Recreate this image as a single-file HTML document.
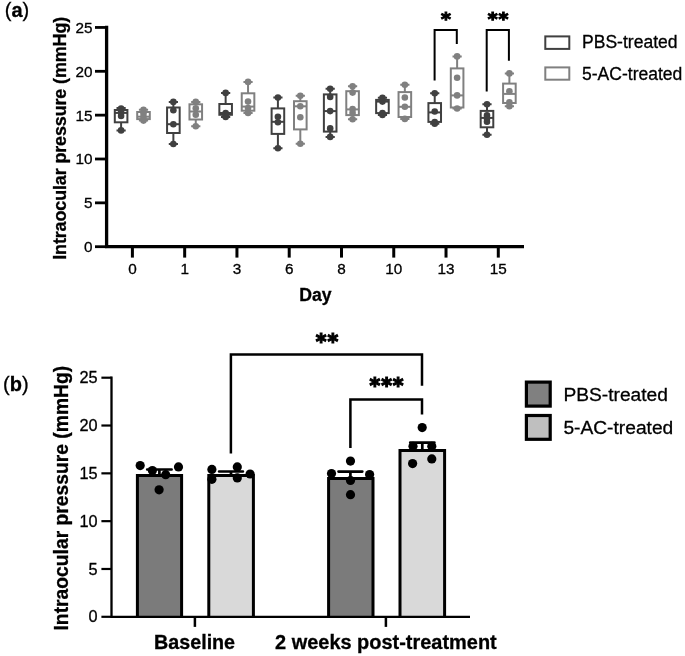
<!DOCTYPE html>
<html lang="en"><head><meta charset="utf-8"><title>Intraocular pressure</title>
<style>
html,body{margin:0;padding:0;background:#fff;}
svg{display:block;font-family:"Liberation Sans", Arial, Helvetica, sans-serif;fill:#000;}
text{stroke:#000;stroke-width:0.3px;}
.st{font-family:"DejaVu Sans",sans-serif;font-weight:bold;stroke:#000;stroke-width:1.2px;stroke-linejoin:miter;}
</style></head>
<body>
<svg width="685" height="656" viewBox="0 0 685 656">
<rect width="685" height="656" fill="#fff" stroke="none"/>
<text x="4.8" y="16.8" font-size="20">(<tspan font-weight="bold">a</tspan>)</text>
<path d="M106.6 25.69999999999999V246.7H524" fill="none" stroke="#000" stroke-width="3.3" stroke-linejoin="miter"/>
<path d="M95 246.70H106.6" stroke="#000" stroke-width="2.8"/>
<text x="92.4" y="252.10" font-size="15.3" text-anchor="end">0</text>
<path d="M95 202.85H106.6" stroke="#000" stroke-width="2.8"/>
<text x="92.4" y="208.25" font-size="15.3" text-anchor="end">5</text>
<path d="M95 159.00H106.6" stroke="#000" stroke-width="2.8"/>
<text x="92.4" y="164.40" font-size="15.3" text-anchor="end">10</text>
<path d="M95 115.15H106.6" stroke="#000" stroke-width="2.8"/>
<text x="92.4" y="120.55" font-size="15.3" text-anchor="end">15</text>
<path d="M95 71.30H106.6" stroke="#000" stroke-width="2.8"/>
<text x="92.4" y="76.70" font-size="15.3" text-anchor="end">20</text>
<path d="M95 27.45H106.6" stroke="#000" stroke-width="2.8"/>
<text x="92.4" y="32.85" font-size="15.3" text-anchor="end">25</text>
<path d="M132.40 246.7V257.6" stroke="#000" stroke-width="3"/>
<text x="132.40" y="273.8" font-size="15.3" text-anchor="middle">0</text>
<path d="M184.67 246.7V257.6" stroke="#000" stroke-width="3"/>
<text x="184.67" y="273.8" font-size="15.3" text-anchor="middle">1</text>
<path d="M236.94 246.7V257.6" stroke="#000" stroke-width="3"/>
<text x="236.94" y="273.8" font-size="15.3" text-anchor="middle">3</text>
<path d="M289.21 246.7V257.6" stroke="#000" stroke-width="3"/>
<text x="289.21" y="273.8" font-size="15.3" text-anchor="middle">6</text>
<path d="M341.48 246.7V257.6" stroke="#000" stroke-width="3"/>
<text x="341.48" y="273.8" font-size="15.3" text-anchor="middle">8</text>
<path d="M393.75 246.7V257.6" stroke="#000" stroke-width="3"/>
<text x="393.75" y="273.8" font-size="15.3" text-anchor="middle">10</text>
<path d="M446.02 246.7V257.6" stroke="#000" stroke-width="3"/>
<text x="446.02" y="273.8" font-size="15.3" text-anchor="middle">13</text>
<path d="M498.29 246.7V257.6" stroke="#000" stroke-width="3"/>
<text x="498.29" y="273.8" font-size="15.3" text-anchor="middle">15</text>
<text x="315.5" y="300.8" font-size="17.6" font-weight="bold" text-anchor="middle">Day</text>
<text transform="translate(66 259.8) rotate(-90)" letter-spacing="-0.13" font-size="17.97" font-weight="bold">Intraocular pressure (mmHg)</text>
<g stroke="#404040" fill="none" stroke-width="2">
<rect x="114.80" y="110.00" width="12.60" height="12.30"/>
<path d="M114.80 112.90H127.40"/>
<path d="M121.10 110.00V108.00"/>
<path d="M121.10 122.30V130.40"/>
<path d="M116.50 108.00H125.70M116.50 130.40H125.70"/>
</g>
<circle cx="121.10" cy="108.60" r="3.3" fill="#404040"/>
<circle cx="121.10" cy="112.00" r="3.3" fill="#404040"/>
<circle cx="121.10" cy="115.90" r="3.3" fill="#404040"/>
<circle cx="121.10" cy="130.40" r="3.3" fill="#404040"/>
<g stroke="#808080" fill="none" stroke-width="2">
<rect x="137.20" y="112.00" width="12.60" height="7.10"/>
<path d="M137.20 116.70H149.80"/>
<path d="M143.50 112.00V109.80"/>
<path d="M143.50 119.10V120.60"/>
<path d="M138.90 109.80H148.10M138.90 120.60H148.10"/>
</g>
<circle cx="143.50" cy="109.80" r="3.3" fill="#808080"/>
<circle cx="143.50" cy="113.50" r="3.3" fill="#808080"/>
<circle cx="143.50" cy="117.00" r="3.3" fill="#808080"/>
<circle cx="143.50" cy="120.60" r="3.3" fill="#808080"/>
<g stroke="#404040" fill="none" stroke-width="2">
<rect x="167.07" y="107.50" width="12.60" height="25.50"/>
<path d="M167.07 124.20H179.67"/>
<path d="M173.37 107.50V101.90"/>
<path d="M173.37 133.00V144.00"/>
<path d="M168.77 101.90H177.97M168.77 144.00H177.97"/>
</g>
<circle cx="173.37" cy="101.90" r="3.3" fill="#404040"/>
<circle cx="173.37" cy="110.20" r="3.3" fill="#404040"/>
<circle cx="173.37" cy="124.20" r="3.3" fill="#404040"/>
<circle cx="173.37" cy="144.00" r="3.3" fill="#404040"/>
<g stroke="#808080" fill="none" stroke-width="2">
<rect x="189.47" y="104.30" width="12.60" height="15.20"/>
<path d="M189.47 111.50H202.07"/>
<path d="M195.77 104.30V101.90"/>
<path d="M195.77 119.50V126.20"/>
<path d="M191.17 101.90H200.37M191.17 126.20H200.37"/>
</g>
<circle cx="195.77" cy="101.90" r="3.3" fill="#808080"/>
<circle cx="195.77" cy="108.30" r="3.3" fill="#808080"/>
<circle cx="195.77" cy="114.70" r="3.3" fill="#808080"/>
<circle cx="195.77" cy="126.20" r="3.3" fill="#808080"/>
<g stroke="#404040" fill="none" stroke-width="2">
<rect x="219.34" y="104.00" width="12.60" height="10.80"/>
<path d="M219.34 113.00H231.94"/>
<path d="M225.64 104.00V92.90"/>
<path d="M225.64 114.80V117.00"/>
<path d="M221.04 92.90H230.24M221.04 117.00H230.24"/>
</g>
<circle cx="225.64" cy="92.90" r="3.3" fill="#404040"/>
<circle cx="225.64" cy="113.00" r="3.3" fill="#404040"/>
<circle cx="225.64" cy="115.00" r="3.3" fill="#404040"/>
<circle cx="225.64" cy="117.00" r="3.3" fill="#404040"/>
<g stroke="#808080" fill="none" stroke-width="2">
<rect x="241.74" y="93.30" width="12.60" height="17.40"/>
<path d="M241.74 106.60H254.34"/>
<path d="M248.04 93.30V81.90"/>
<path d="M248.04 110.70V112.90"/>
<path d="M243.44 81.90H252.64M243.44 112.90H252.64"/>
</g>
<circle cx="248.04" cy="81.90" r="3.3" fill="#808080"/>
<circle cx="248.04" cy="101.60" r="3.3" fill="#808080"/>
<circle cx="248.04" cy="108.00" r="3.3" fill="#808080"/>
<circle cx="248.04" cy="112.90" r="3.3" fill="#808080"/>
<g stroke="#404040" fill="none" stroke-width="2">
<rect x="271.61" y="108.40" width="12.60" height="25.50"/>
<path d="M271.61 121.80H284.21"/>
<path d="M277.91 108.40V97.60"/>
<path d="M277.91 133.90V148.20"/>
<path d="M273.31 97.60H282.51M273.31 148.20H282.51"/>
</g>
<circle cx="277.91" cy="97.60" r="3.3" fill="#404040"/>
<circle cx="277.91" cy="116.80" r="3.3" fill="#404040"/>
<circle cx="277.91" cy="122.30" r="3.3" fill="#404040"/>
<circle cx="277.91" cy="148.20" r="3.3" fill="#404040"/>
<g stroke="#808080" fill="none" stroke-width="2">
<rect x="294.01" y="101.20" width="12.60" height="28.20"/>
<path d="M294.01 106.30H306.61"/>
<path d="M300.31 101.20V95.70"/>
<path d="M300.31 129.40V143.70"/>
<path d="M295.71 95.70H304.91M295.71 143.70H304.91"/>
</g>
<circle cx="300.31" cy="95.70" r="3.3" fill="#808080"/>
<circle cx="300.31" cy="106.30" r="3.3" fill="#808080"/>
<circle cx="300.31" cy="117.30" r="3.3" fill="#808080"/>
<circle cx="300.31" cy="143.70" r="3.3" fill="#808080"/>
<g stroke="#404040" fill="none" stroke-width="2">
<rect x="323.88" y="94.40" width="12.60" height="37.20"/>
<path d="M323.88 111.10H336.48"/>
<path d="M330.18 94.40V88.70"/>
<path d="M330.18 131.60V136.90"/>
<path d="M325.58 88.70H334.78M325.58 136.90H334.78"/>
</g>
<circle cx="330.18" cy="88.70" r="3.3" fill="#404040"/>
<circle cx="330.18" cy="96.90" r="3.3" fill="#404040"/>
<circle cx="330.18" cy="111.10" r="3.3" fill="#404040"/>
<circle cx="330.18" cy="128.40" r="3.3" fill="#404040"/>
<circle cx="330.18" cy="136.90" r="3.3" fill="#404040"/>
<g stroke="#808080" fill="none" stroke-width="2">
<rect x="346.28" y="91.20" width="12.60" height="23.90"/>
<path d="M346.28 109.40H358.88"/>
<path d="M352.58 91.20V86.20"/>
<path d="M352.58 115.10V119.30"/>
<path d="M347.98 86.20H357.18M347.98 119.30H357.18"/>
</g>
<circle cx="352.58" cy="86.20" r="3.3" fill="#808080"/>
<circle cx="352.58" cy="92.60" r="3.3" fill="#808080"/>
<circle cx="352.58" cy="109.10" r="3.3" fill="#808080"/>
<circle cx="352.58" cy="112.90" r="3.3" fill="#808080"/>
<circle cx="352.58" cy="119.30" r="3.3" fill="#808080"/>
<g stroke="#404040" fill="none" stroke-width="2">
<rect x="376.15" y="99.90" width="12.60" height="13.20"/>
<path d="M376.15 101.60H388.75"/>
<path d="M382.45 99.90V97.80"/>
<path d="M382.45 113.10V115.00"/>
<path d="M377.85 97.80H387.05M377.85 115.00H387.05"/>
</g>
<circle cx="382.45" cy="97.80" r="3.3" fill="#404040"/>
<circle cx="382.45" cy="101.60" r="3.3" fill="#404040"/>
<circle cx="382.45" cy="113.00" r="3.3" fill="#404040"/>
<circle cx="382.45" cy="115.00" r="3.3" fill="#404040"/>
<g stroke="#808080" fill="none" stroke-width="2">
<rect x="398.55" y="92.10" width="12.60" height="24.90"/>
<path d="M398.55 106.80H411.15"/>
<path d="M404.85 92.10V84.70"/>
<path d="M404.85 117.00V118.90"/>
<path d="M400.25 84.70H409.45M400.25 118.90H409.45"/>
</g>
<circle cx="404.85" cy="84.70" r="3.3" fill="#808080"/>
<circle cx="404.85" cy="97.50" r="3.3" fill="#808080"/>
<circle cx="404.85" cy="106.80" r="3.3" fill="#808080"/>
<circle cx="404.85" cy="118.90" r="3.3" fill="#808080"/>
<g stroke="#404040" fill="none" stroke-width="2">
<rect x="428.42" y="103.10" width="12.60" height="18.80"/>
<path d="M428.42 112.40H441.02"/>
<path d="M434.72 103.10V93.20"/>
<path d="M434.72 121.90V123.70"/>
<path d="M430.12 93.20H439.32M430.12 123.70H439.32"/>
</g>
<circle cx="434.72" cy="93.20" r="3.3" fill="#404040"/>
<circle cx="434.72" cy="111.50" r="3.3" fill="#404040"/>
<circle cx="434.72" cy="122.00" r="3.3" fill="#404040"/>
<circle cx="434.72" cy="123.70" r="3.3" fill="#404040"/>
<g stroke="#808080" fill="none" stroke-width="2">
<rect x="450.82" y="68.40" width="12.60" height="39.10"/>
<path d="M450.82 95.40H463.42"/>
<path d="M457.12 68.40V56.40"/>
<path d="M457.12 107.50V108.50"/>
<path d="M452.52 56.40H461.72M452.52 108.50H461.72"/>
</g>
<circle cx="457.12" cy="56.40" r="3.3" fill="#808080"/>
<circle cx="457.12" cy="77.80" r="3.3" fill="#808080"/>
<circle cx="457.12" cy="95.40" r="3.3" fill="#808080"/>
<circle cx="457.12" cy="108.50" r="3.3" fill="#808080"/>
<g stroke="#404040" fill="none" stroke-width="2">
<rect x="480.69" y="110.90" width="12.60" height="16.40"/>
<path d="M480.69 117.90H493.29"/>
<path d="M486.99 110.90V104.30"/>
<path d="M486.99 127.30V134.80"/>
<path d="M482.39 104.30H491.59M482.39 134.80H491.59"/>
</g>
<circle cx="486.99" cy="104.30" r="3.3" fill="#404040"/>
<circle cx="486.99" cy="115.40" r="3.3" fill="#404040"/>
<circle cx="486.99" cy="118.50" r="3.3" fill="#404040"/>
<circle cx="486.99" cy="121.80" r="3.3" fill="#404040"/>
<circle cx="486.99" cy="134.80" r="3.3" fill="#404040"/>
<g stroke="#808080" fill="none" stroke-width="2">
<rect x="503.09" y="83.60" width="12.60" height="19.40"/>
<path d="M503.09 93.90H515.69"/>
<path d="M509.39 83.60V73.40"/>
<path d="M509.39 103.00V106.30"/>
<path d="M504.79 73.40H513.99M504.79 106.30H513.99"/>
</g>
<circle cx="509.39" cy="73.40" r="3.3" fill="#808080"/>
<circle cx="509.39" cy="91.20" r="3.3" fill="#808080"/>
<circle cx="509.39" cy="102.40" r="3.3" fill="#808080"/>
<circle cx="509.39" cy="106.30" r="3.3" fill="#808080"/>
<path d="M434.6 80.5V30.1H456.8V43.9" fill="none" stroke="#000" stroke-width="2"/>
<path d="M486.7 91.5V30.1H508.9V60.7" fill="none" stroke="#000" stroke-width="2"/>
<text class="st" transform="translate(0 24.9) scale(1 .95)" x="445.8" font-size="18.8" text-anchor="middle">*</text>
<text class="st" transform="translate(0 24.9) scale(1 .95)" x="492.6 503.4" font-size="18.8" text-anchor="middle">**</text>
<rect x="545.3" y="36.4" width="24" height="12.5" fill="none" stroke="#404040" stroke-width="2"/>
<rect x="545.3" y="67.4" width="24" height="12.3" fill="none" stroke="#808080" stroke-width="2"/>
<text x="582" y="48.4" font-size="17.55">PBS-treated</text>
<text x="582" y="79.6" font-size="17.55">5-AC-treated</text>
<text x="3.1" y="390.6" font-size="20">(<tspan font-weight="bold">b</tspan>)</text>
<path d="M159.4 481.70V469.5M147.20000000000002 469.5H171.6" fill="none" stroke="#000" stroke-width="2.7" stroke-linecap="round"/>
<path d="M137.4 616.8V475.6H181.6V616.8" fill="#7b7b7b" stroke="#000" stroke-width="3"/>
<path d="M231.0 479.50V471.5M219.1 471.5H242.9" fill="none" stroke="#000" stroke-width="2.7" stroke-linecap="round"/>
<path d="M208.8 616.8V475.5H253.4V616.8" fill="#d9d9d9" stroke="#000" stroke-width="3"/>
<path d="M350.4 485.60V471.6M338.5 471.6H362.29999999999995" fill="none" stroke="#000" stroke-width="2.7" stroke-linecap="round"/>
<path d="M328.6 616.8V478.6H373.0V616.8" fill="#7b7b7b" stroke="#000" stroke-width="3"/>
<path d="M422.3 458.40V442.6M410.2 442.6H434.40000000000003" fill="none" stroke="#000" stroke-width="2.7" stroke-linecap="round"/>
<path d="M400.0 616.8V450.5H444.6V616.8" fill="#d9d9d9" stroke="#000" stroke-width="3"/>
<path d="M111.5 376.60V616.8H470" fill="none" stroke="#000" stroke-width="2.3"/>
<path d="M101.4 616.80H111.5" stroke="#000" stroke-width="2.2"/>
<text x="97.5" y="622.40" font-size="16.3" text-anchor="end">0</text>
<path d="M101.4 568.98H111.5" stroke="#000" stroke-width="2.2"/>
<text x="97.5" y="574.58" font-size="16.3" text-anchor="end">5</text>
<path d="M101.4 521.16H111.5" stroke="#000" stroke-width="2.2"/>
<text x="97.5" y="526.76" font-size="16.3" text-anchor="end">10</text>
<path d="M101.4 473.34H111.5" stroke="#000" stroke-width="2.2"/>
<text x="97.5" y="478.94" font-size="16.3" text-anchor="end">15</text>
<path d="M101.4 425.52H111.5" stroke="#000" stroke-width="2.2"/>
<text x="97.5" y="431.12" font-size="16.3" text-anchor="end">20</text>
<path d="M101.4 377.70H111.5" stroke="#000" stroke-width="2.2"/>
<text x="97.5" y="383.30" font-size="16.3" text-anchor="end">25</text>
<path d="M194.9 616.8V626.9" stroke="#000" stroke-width="2.5"/>
<path d="M385.9 616.8V626.9" stroke="#000" stroke-width="2.5"/>
<text x="194.6" y="648.5" font-size="19.7" font-weight="bold" text-anchor="middle">Baseline</text>
<text x="385.9" y="648.5" font-size="19.95" font-weight="bold" text-anchor="middle">2 weeks post-treatment</text>
<text transform="translate(68.2 630.5) rotate(-90)" font-size="19.3" font-weight="bold">Intraocular pressure (mmHg)</text>
<circle cx="140.2" cy="465.6" r="4.6" fill="#000"/>
<circle cx="152.4" cy="470.5" r="4.6" fill="#000"/>
<circle cx="165.7" cy="474.7" r="4.6" fill="#000"/>
<circle cx="178.5" cy="466.9" r="4.6" fill="#000"/>
<circle cx="159.1" cy="489.8" r="4.6" fill="#000"/>
<circle cx="211.9" cy="469.4" r="4.6" fill="#000"/>
<circle cx="211.9" cy="479.3" r="4.6" fill="#000"/>
<circle cx="237.3" cy="466.9" r="4.6" fill="#000"/>
<circle cx="237.3" cy="477.9" r="4.6" fill="#000"/>
<circle cx="250.1" cy="474.0" r="4.6" fill="#000"/>
<circle cx="350.5" cy="461.1" r="4.6" fill="#000"/>
<circle cx="331.5" cy="473.5" r="4.6" fill="#000"/>
<circle cx="369.6" cy="474.6" r="4.6" fill="#000"/>
<circle cx="350.5" cy="480.5" r="4.6" fill="#000"/>
<circle cx="350.5" cy="494.7" r="4.6" fill="#000"/>
<circle cx="422.2" cy="427.6" r="4.6" fill="#000"/>
<circle cx="413.0" cy="446.3" r="4.6" fill="#000"/>
<circle cx="431.8" cy="446.3" r="4.6" fill="#000"/>
<circle cx="412.6" cy="463.6" r="4.6" fill="#000"/>
<circle cx="431.8" cy="458.9" r="4.6" fill="#000"/>
<path d="M230.9 453.6V354.5H422V385.7" fill="none" stroke="#000" stroke-width="2.5"/>
<path d="M350.4 447.9V399.5H422V414.4" fill="none" stroke="#000" stroke-width="2.5"/>
<text class="st" transform="translate(0 348.6) scale(1 1.03)" x="321.1 332.8" font-size="20.5" text-anchor="middle">**</text>
<text class="st" transform="translate(0 393.3) scale(1 1.03)" x="374.8 386.5 398.2" font-size="20.5" text-anchor="middle">***</text>
<rect x="526.4" y="382.1" width="23.8" height="24" fill="#808080" stroke="#000" stroke-width="3.2"/>
<rect x="526.4" y="415.5" width="23.8" height="23.8" fill="#bfbfbf" stroke="#000" stroke-width="3.2"/>
<text x="563.4" y="401.2" font-size="19.2">PBS-treated</text>
<text x="563.4" y="433.9" font-size="19.2">5-AC-treated</text>
</svg>
</body></html>
